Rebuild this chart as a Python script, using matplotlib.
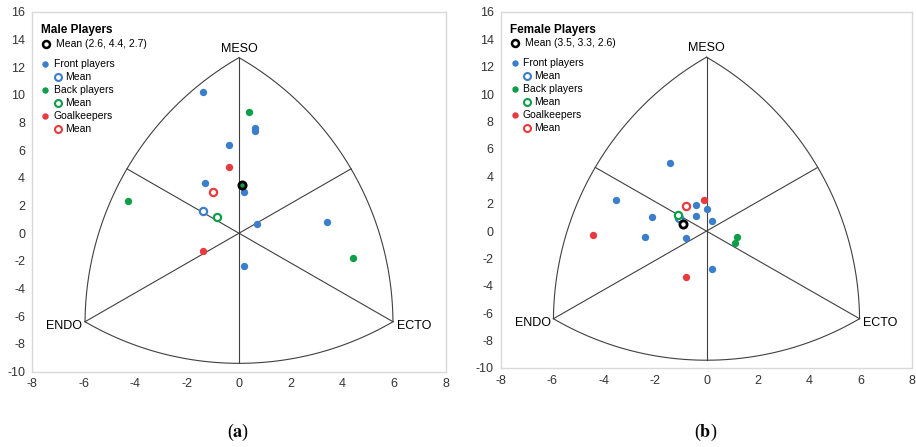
import numpy as np
import matplotlib.pyplot as plt

plt.rcParams['font.family'] = ['Liberation Sans', 'DejaVu Sans']
plt.rcParams['mathtext.fontset'] = 'stix'
plt.rcParams['axes.unicode_minus'] = False

# somatochart corners (x = ecto - endo, y = 2*meso - endo - ecto)
meso_pt = (0.0, 12.7)
endo_pt = (-5.95, -6.4)
ecto_pt = (5.95, -6.4)

# male players
male_front_x = [-1.4, 0.6, 0.6, -0.4, 0.2, -1.3, 0.7, 3.4, 0.2]
male_front_y = [10.2, 7.6, 7.4, 6.4, 3.0, 3.6, 0.7, 0.8, -2.4]
male_back_x = [0.4, 0.15, -4.3, 4.4]
male_back_y = [8.8, 3.5, 2.3, -1.8]
male_gk_x = [-0.4, -1.4]
male_gk_y = [4.8, -1.3]
male_mean_x = [-1.4, -0.85, -1.0]      # front, back, goalkeepers
male_mean_y = [1.6, 1.2, 3.0]
male_somatotype = (2.6, 4.4, 2.7)      # endo, meso, ecto

# female players
female_front_x = [-1.4, -3.5, -0.4, 0.0, -2.1, -0.4, 0.2, -2.4, -0.8, 0.2]
female_front_y = [4.95, 2.3, 1.9, 1.6, 1.0, 1.1, 0.7, -0.4, -0.5, -2.8]
female_back_x = [1.2, 1.1]
female_back_y = [-0.4, -0.9]
female_gk_x = [-0.1, -4.4, -0.8]
female_gk_y = [2.3, -0.3, -3.35]
female_mean_x = [-1.05, -1.1, -0.8]
female_mean_y = [0.95, 1.15, 1.85]
female_somatotype = (3.5, 3.3, 2.6)

BLUE = '#3b7ecb'
GREEN = '#0e9e49'
RED = '#e63b3f'
LINE = '#404040'

fig = plt.figure(figsize=(9.16, 4.47), dpi=100)
ax1 = fig.add_axes([32/916, 1-371.5/447, 414/916, 359.5/447])
ax2 = fig.add_axes([500.7/916, 1-368/447, 411.6/916, 356/447])


def to_uv(p, k):
    return np.array([p[0], p[1] * k])


def arc(p_from, p_to, center, k, n=120):
    # circular arc on screen (Reuleaux style) -> squeezed in data units
    c = to_uv(center, k)
    a = to_uv(p_from, k) - c
    b = to_uv(p_to, k) - c
    t = np.linspace(np.arctan2(a[1], a[0]), np.arctan2(b[1], b[0]), n)
    r = np.linspace(np.hypot(*a), np.hypot(*b), n)
    return c[0] + r*np.cos(t), (c[1] + r*np.sin(t)) / k


def axis_end(v, other1, other2, k):
    # line from corner v through the origin up to the opposite arc
    vv = to_uv(v, k)
    r = 0.5 * (np.linalg.norm(to_uv(other1, k) - vv) + np.linalg.norm(to_uv(other2, k) - vv))
    u = -vv / np.linalg.norm(vv)
    e = vv + r*u
    return e[0], e[1] / k


def draw_chart(ax):
    ax.set_xlim(-8, 8)
    ax.set_ylim(-10, 16)
    ax.set_xticks(range(-8, 9, 2))
    ax.set_yticks(range(-10, 17, 2))
    ax.tick_params(length=0, labelsize=9, colors='#333333', pad=5)
    for s in ax.spines.values():
        s.set_color('#d9d9d9')
        s.set_linewidth(1)
    bb = ax.get_position()
    w = bb.width * fig.get_figwidth()
    h = bb.height * fig.get_figheight()
    k = (h / 26) / (w / 16)

    for p0, p1, c in [(endo_pt, meso_pt, ecto_pt),
                      (meso_pt, ecto_pt, endo_pt),
                      (endo_pt, ecto_pt, meso_pt)]:
        xs, ys = arc(p0, p1, c, k)
        ax.plot(xs, ys, color=LINE, lw=0.8, zorder=1)
    for v, o1, o2 in [(meso_pt, endo_pt, ecto_pt),
                      (endo_pt, meso_pt, ecto_pt),
                      (ecto_pt, meso_pt, endo_pt)]:
        ex, ey = axis_end(v, o1, o2, k)
        ax.plot([v[0], ex], [v[1], ey], color=LINE, lw=0.8, zorder=1)

    ax.text(meso_pt[0], meso_pt[1] + 0.65, 'MESO', ha='center', va='center', fontsize=9)
    ax.text(endo_pt[0] - 0.1, endo_pt[1] - 0.3, 'ENDO', ha='right', va='center', fontsize=9)
    ax.text(ecto_pt[0] + 0.15, ecto_pt[1] - 0.3, 'ECTO', ha='left', va='center', fontsize=9)


def draw_legend(ax, title, somatotype, x0):
    tr = ax.transAxes
    ax.text(x0, 0.95, title, transform=tr, fontsize=8.5, fontweight='bold', va='center')
    ax.plot(x0 + 0.012, 0.912, 'o', mfc='none', mec='black', ms=5, mew=1.8, transform=tr)
    ax.text(x0 + 0.037, 0.912, 'Mean (%.1f, %.1f, %.1f)' % somatotype, transform=tr,
            fontsize=7.5, va='center')
    rows = [('Front players', BLUE, 0.856), ('Back players', GREEN, 0.783),
            ('Goalkeepers', RED, 0.710)]
    for label, col, y in rows:
        ax.plot(x0 + 0.011, y, 'o', color=col, ms=4.6, mew=0, transform=tr)
        ax.text(x0 + 0.031, y, label, transform=tr, fontsize=7.5, va='center')
        ax.plot(x0 + 0.042, y - 0.036, 'o', mfc='none', mec=col, ms=5, mew=1.5, transform=tr)
        ax.text(x0 + 0.058, y - 0.036, 'Mean', transform=tr, fontsize=7.5, va='center')


def draw_points(ax, front, back, gk, means, somatotype):
    for (xs, ys), col in zip([front, back, gk], [BLUE, GREEN, RED]):
        ax.plot(xs, ys, 'o', color=col, ms=5.3, mew=0, ls='none', zorder=3)
    for mx, my, col in zip(means[0], means[1], [BLUE, GREEN, RED]):
        ax.plot(mx, my, 'o', mfc='white', mec=col, ms=5.2, mew=1.6, zorder=4)
    endo, meso, ecto = somatotype
    ax.plot(ecto - endo, 2*meso - endo - ecto, 'o', mfc='none', mec='black',
            ms=5.2, mew=2.0, zorder=5)


for ax in (ax1, ax2):
    draw_chart(ax)

draw_points(ax1, (male_front_x, male_front_y), (male_back_x, male_back_y),
            (male_gk_x, male_gk_y), (male_mean_x, male_mean_y), male_somatotype)
draw_points(ax2, (female_front_x, female_front_y), (female_back_x, female_back_y),
            (female_gk_x, female_gk_y), (female_mean_x, female_mean_y), female_somatotype)

draw_legend(ax1, 'Male Players', male_somatotype, 0.021)
draw_legend(ax2, 'Female Players', female_somatotype, 0.023)

fig.text(238/916, 1-432/447, r'($\mathbf{a}$)', ha='center', va='center', fontsize=13,
         family='Liberation Serif')
fig.text(706/916, 1-432/447, r'($\mathbf{b}$)', ha='center', va='center', fontsize=13,
         family='Liberation Serif')

fig.savefig('out.png', dpi=100, facecolor='white')
